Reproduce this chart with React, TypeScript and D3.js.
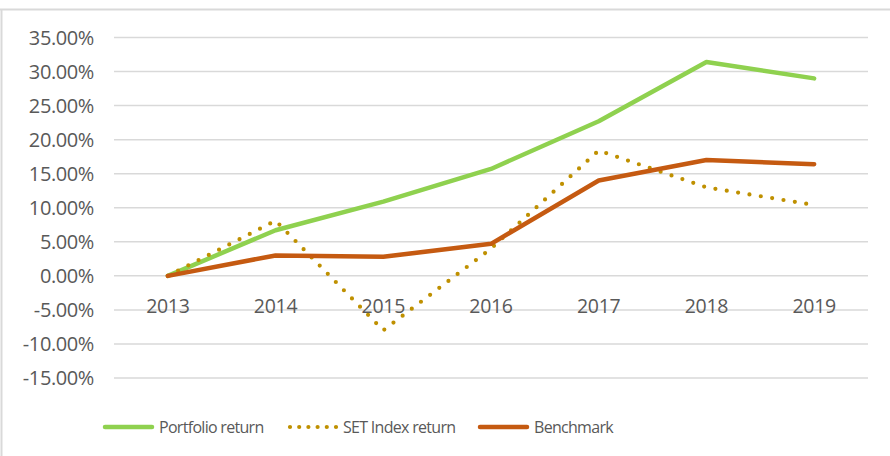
import * as d3 from 'd3'

const years = ['2013', '2014', '2015', '2016', '2017', '2018', '2019']
const portfolioReturn = [0, 0.067, 0.109, 0.157, 0.227, 0.314, 0.29]
const setIndexReturn = [0, 0.081, -0.08, 0.04, 0.184, 0.13, 0.104]
const benchmark = [0, 0.03, 0.028, 0.047, 0.14, 0.17, 0.164]
const yTicks = [-0.15, -0.1, -0.05, 0, 0.05, 0.1, 0.15, 0.2, 0.25, 0.3, 0.35]

const seriesList = [
  { name: 'Portfolio return', values: portfolioReturn, color: '#8fd14f', dotted: false },
  { name: 'SET Index return', values: setIndexReturn, color: '#bf9000', dotted: true },
  { name: 'Benchmark', values: benchmark, color: '#c55a11', dotted: false },
]

export default function App() {
  const width = 890
  const height = 456
  const font = '"Open Sans", "Liberation Sans", Arial, sans-serif'
  const textColor = '#595959'

  const x = d3.scaleBand().domain(years).range([114, 868])
  const y = d3.scaleLinear().domain([-0.15, 0.35]).range([378, 37.5])
  const fmt = (v: number) => (v * 100).toFixed(2) + '%'

  const line = d3
    .line<number>()
    .x((_, i) => (x(years[i]) as number) + x.bandwidth() / 2)
    .y(d => y(d))

  const legendItems = [
    { x0: 105, tx: 159 },
    { x0: 290, tx: 343 },
    { x0: 480, tx: 534 },
  ]

  return (
    <svg width={width} height={height} style={{ position: 'absolute', left: 0, top: 0, background: '#fff' }}>
      <line x1={0} x2={width} y1={9.5} y2={9.5} stroke="#d9d9d9" strokeWidth={2} />
      <line x1={1.5} x2={1.5} y1={9} y2={height} stroke="#d9d9d9" strokeWidth={2} />

      {yTicks.map(t => (
        <g key={t}>
          <line x1={114} x2={868} y1={y(t)} y2={y(t)} stroke="#d9d9d9" strokeWidth={1.5} />
          <text
            x={94}
            y={y(t)}
            dy="0.36em"
            textAnchor="end"
            fontFamily={font}
            fontSize={20}
            letterSpacing={-0.4}
            fill={textColor}
          >
            {fmt(t)}
          </text>
        </g>
      ))}

      {years.map(yr => (
        <text
          key={yr}
          x={(x(yr) as number) + x.bandwidth() / 2}
          y={306}
          dy="0.36em"
          textAnchor="middle"
          fontFamily={font}
          fontSize={19.5}
          letterSpacing={-0.3}
          fill={textColor}
        >
          {yr}
        </text>
      ))}

      {seriesList.map(s => (
        <path
          key={s.name}
          d={line(s.values) || ''}
          fill="none"
          stroke={s.color}
          strokeWidth={s.dotted ? 4.2 : 4.5}
          strokeLinecap="round"
          strokeLinejoin="round"
          strokeDasharray={s.dotted ? '0 11.5' : undefined}
        />
      ))}

      {seriesList.map((s, i) => (
        <g key={s.name}>
          <line
            x1={legendItems[i].x0}
            x2={legendItems[i].x0 + 47}
            y1={427}
            y2={427}
            stroke={s.color}
            strokeWidth={s.dotted ? 4.2 : 4.5}
            strokeLinecap="round"
            strokeDasharray={s.dotted ? '0 9.2' : undefined}
          />
          <text
            x={legendItems[i].tx}
            y={427}
            dy="0.36em"
            fontFamily={font}
            fontSize={16}
            letterSpacing={-0.7}
            fill={textColor}
          >
            {s.name}
          </text>
        </g>
      ))}
    </svg>
  )
}
